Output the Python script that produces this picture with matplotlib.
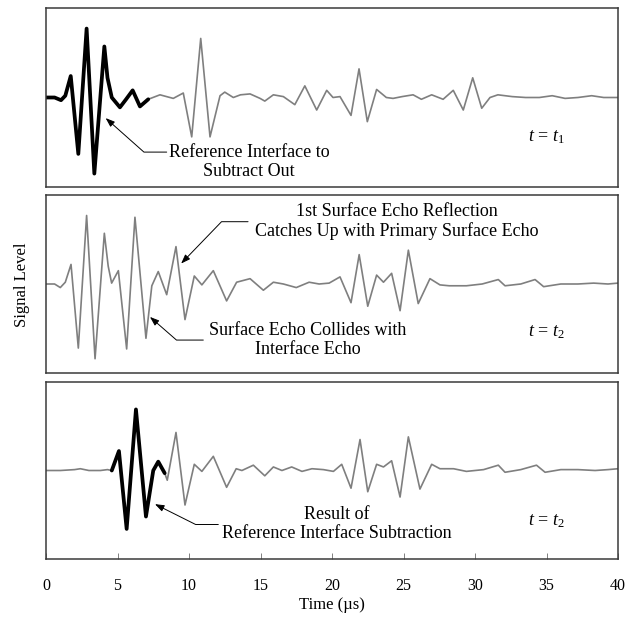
import matplotlib
matplotlib.use("Agg")
import matplotlib.pyplot as plt
import numpy as np

plt.rcParams["font.family"] = ["Liberation Serif", "DejaVu Serif"]
plt.rcParams["mathtext.fontset"] = "custom"
plt.rcParams["mathtext.rm"] = "Liberation Serif"
plt.rcParams["mathtext.it"] = "Liberation Serif:italic"

# (time in us, signal level) picked off the peaks and troughs of each trace
top_trace = [
    (0.0, 0.0), (0.6, 0.0), (1.05, -0.03), (1.35, 0.02), (1.73, 0.24),
    (2.26, -0.63), (2.84, 0.77), (3.38, -0.85), (4.08, 0.57), (4.3, 0.22),
    (4.6, 0.0), (5.17, -0.11), (5.6, -0.02), (6.06, 0.08), (6.57, -0.10),
    (7.15, -0.02), (7.97, 0.03), (8.9, -0.01), (9.6, 0.05), (10.19, -0.44),
    (10.82, 0.66), (11.47, -0.44), (12.17, 0.02), (12.5, 0.06), (13.1, 0.0),
    (13.6, 0.03), (14.27, 0.04), (14.97, -0.01), (15.3, -0.04), (15.9, 0.03),
    (16.6, 0.01), (17.4, -0.08), (18.1, 0.13), (18.93, -0.14), (19.63, 0.08),
    (20.07, 0.0), (20.56, 0.01), (21.33, -0.20), (21.89, 0.32), (22.47, -0.27),
    (23.12, 0.09), (23.8, 0.0), (24.27, -0.01), (24.9, 0.01), (25.67, 0.03),
    (26.25, -0.02), (26.97, 0.03), (27.77, -0.02), (28.48, 0.08), (29.18, -0.14),
    (29.84, 0.22), (30.47, -0.12), (31.05, 0.0), (31.6, 0.03), (32.6, 0.01),
    (33.54, 0.0), (34.5, 0.0), (35.4, 0.02), (36.3, -0.01), (37.2, 0.0),
    (38.16, 0.02), (39.0, 0.0), (40.0, 0.0),
]

mid_trace = [
    (0.0, 0.0), (0.6, 0.0), (1.0, -0.04), (1.35, 0.02), (1.75, 0.22),
    (2.26, -0.72), (2.84, 0.77), (3.43, -0.84), (4.08, 0.57), (4.35, 0.20),
    (4.59, 0.01), (5.06, 0.15), (5.64, -0.73), (6.22, 0.75), (6.99, -0.61),
    (7.4, -0.02), (7.85, 0.14), (8.44, -0.12), (9.09, 0.42), (9.72, -0.40),
    (10.37, 0.09), (10.9, -0.01), (11.7, 0.15), (12.63, -0.19), (13.33, 0.02),
    (14.27, 0.06), (15.2, -0.07), (15.9, 0.02), (16.6, 0.0), (17.5, -0.04),
    (18.4, 0.02), (19.1, 0.0), (19.8, 0.01), (20.56, 0.08), (21.33, -0.21),
    (21.9, 0.33), (22.5, -0.25), (23.12, 0.10), (23.6, 0.02), (24.17, 0.12),
    (24.76, -0.30), (25.34, 0.38), (26.03, -0.22), (26.85, 0.06), (27.55, -0.01),
    (28.2, -0.02), (29.4, -0.02), (30.5, 0.0), (31.63, 0.05), (32.1, -0.02),
    (33.2, 0.0), (34.2, 0.05), (34.8, -0.03), (36.0, 0.0), (37.2, 0.0),
    (38.3, 0.01), (39.3, 0.0), (40.0, 0.01),
]

bot_trace = [
    (0.0, 0.0), (1.0, 0.0), (2.0, 0.01), (2.4, 0.02), (3.0, 0.0),
    (3.8, 0.0), (4.3, 0.01), (4.6, 0.0), (5.1, 0.22), (5.64, -0.66),
    (6.29, 0.69), (6.99, -0.52), (7.5, 0.0), (7.85, 0.10), (8.3, -0.03),
    (8.48, -0.11), (9.09, 0.43), (9.72, -0.39), (10.37, 0.07), (10.9, -0.01),
    (11.7, 0.16), (12.63, -0.19), (13.3, 0.02), (13.7, 0.0), (14.5, 0.06),
    (15.3, -0.06), (15.9, 0.04), (16.5, 0.0), (17.18, 0.04), (17.9, -0.01),
    (18.6, 0.02), (19.4, 0.01), (20.1, -0.01), (20.68, 0.07), (21.33, -0.20),
    (21.96, 0.35), (22.5, -0.24), (23.12, 0.07), (23.6, 0.04), (24.17, 0.11),
    (24.76, -0.30), (25.34, 0.38), (26.15, -0.21), (26.97, 0.07), (27.55, 0.02),
    (28.5, 0.02), (29.4, -0.01), (30.6, 0.01), (31.63, 0.06), (32.1, -0.02),
    (33.2, 0.01), (34.3, 0.06), (34.9, -0.02), (36.0, 0.01), (37.2, 0.01),
    (38.4, 0.0), (39.3, 0.01), (40.0, 0.02),
]

# stretch of each trace drawn heavy in black
top_window = (0.0, 7.15)
bot_window = (4.6, 8.3)

x_ticks = [0, 5, 10, 15, 20, 25, 30, 35, 40]


def draw_trace(ax, trace, window=None):
    t, a = np.array(trace).T
    ax.plot(t, a, color="#7f7f7f", lw=1.2, solid_joinstyle="round")
    if window is not None:
        keep = (t >= window[0]) & (t <= window[1])
        ax.plot(t[keep], a[keep], color="black", lw=2.7,
                solid_joinstyle="round", solid_capstyle="round")


def leader(ax, tip, start, angle):
    ax.annotate("", xy=tip, xytext=start,
                arrowprops=dict(arrowstyle="-|>,head_length=0.55,head_width=0.2",
                                color="black", lw=0.7, shrinkA=0, shrinkB=0,
                                connectionstyle=f"angle,angleA=0,angleB={angle},rad=0"))


def callout(ax, x, y, text):
    ax.text(x, y, text, ha="center", va="center", fontsize=13,
            multialignment="center", linespacing=1.15)


fig = plt.figure(figsize=(6.44, 6.27), dpi=100)
left, width = 46 / 644, 572 / 644
ax_top = fig.add_axes([left, 440 / 627, width, 179 / 627])
ax_mid = fig.add_axes([left, 254 / 627, width, 178 / 627])
ax_bot = fig.add_axes([left, 68 / 627, width, 177 / 627])

for ax in (ax_top, ax_mid, ax_bot):
    ax.set_xlim(0, 40)
    ax.set_ylim(-1, 1)
    ax.set_yticks([])
    for s in ax.spines.values():
        s.set_color("#3a3a3a")
        s.set_linewidth(1.1)

ax_top.set_xticks([])
ax_mid.set_xticks([])
ax_bot.set_xticks(x_ticks)
ax_bot.tick_params(axis="x", direction="in", length=4, width=0.7,
                   color="#808080", pad=14, labelsize=11.5)

draw_trace(ax_top, top_trace, top_window)
draw_trace(ax_mid, mid_trace)
draw_trace(ax_bot, bot_trace, bot_window)

# callouts
callout(ax_top, 14.2, -0.72, "Reference Interface to\nSubtract Out")
leader(ax_top, (4.17, -0.23), (8.44, -0.61), 138.4)

callout(ax_mid, 24.55, 0.70, "1st Surface Echo Reflection\nCatches Up with Primary Surface Echo")
leader(ax_mid, (9.45, 0.23), (14.13, 0.70), 226)

callout(ax_mid, 18.3, -0.63, "Surface Echo Collides with\nInterface Echo")
leader(ax_mid, (7.27, -0.37), (11.0, -0.63), 138.9)

callout(ax_bot, 20.35, -0.60, "Result of\nReference Interface Subtraction")
leader(ax_bot, (7.62, -0.38), (12.05, -0.61), 153.4)

for ax, y, sub in ((ax_top, -0.44, "1"), (ax_mid, -0.54, "2"), (ax_bot, -0.57, "2")):
    ax.text(35.0, y, rf"$t$ = $t_{sub}$", ha="center", va="center", fontsize=13)

fig.text(22 / 644, 1 - 285 / 627, "Signal Level", rotation=90,
         ha="center", va="center", fontsize=12)
fig.text(332 / 644, 1 - 605 / 627, "Time (\u00b5s)", ha="center", va="center", fontsize=12)

fig.savefig("out.png", dpi=100)
